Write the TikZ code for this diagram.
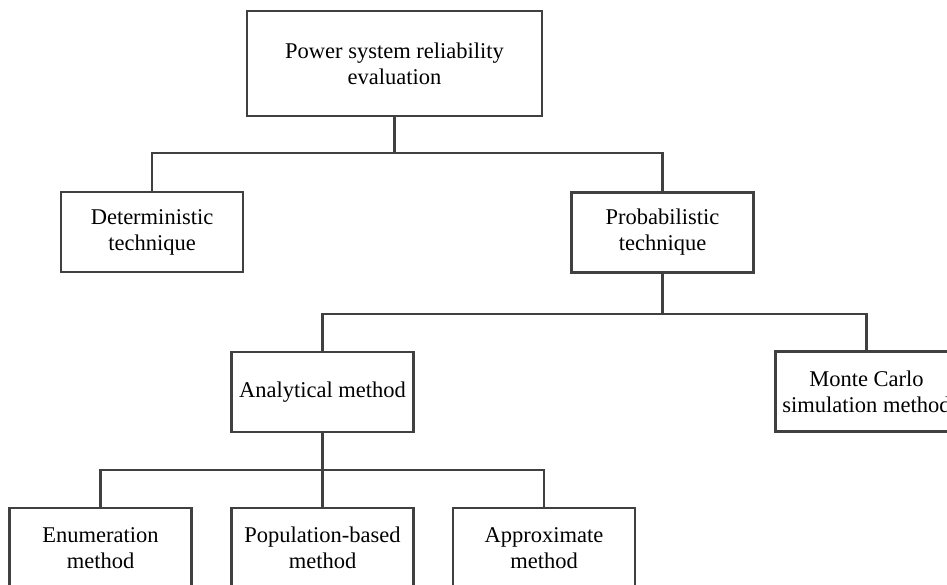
\documentclass[tikz,border=0pt]{standalone}
\usepackage{fontspec}
\setmainfont{Liberation Serif}
\definecolor{linegray}{HTML}{404040}
\begin{document}
\begin{tikzpicture}[x=1pt,y=-1pt,
  box/.style={draw=linegray, line width=2.8pt, fill=white, inner sep=0pt, align=center,
    minimum width=182pt, minimum height=80pt,
    font=\fontsize{22.5}{26}\selectfont},
  conn/.style={draw=linegray, line width=2.8pt}]
\useasboundingbox (0,0) rectangle (947,585);
\clip (0,0) rectangle (947,585);
\fill[white] (0,0) rectangle (947,585);
\node[box, minimum width=295pt, minimum height=105pt] (top) at (394.5,63.5) {Power system reliability\\evaluation};
\node[box] (det) at (152,232) {Deterministic\\technique};
\node[box] (prob) at (662.5,232.5) {Probabilistic\\technique};
\node[box] (anal) at (322.5,392) {Analytical method};
\node[box] (mc) at (866.5,391.5) {Monte Carlo\\simulation method};
\node[box] (enum) at (100.5,548) {Enumeration\\method};
\node[box] (pop) at (322.5,548) {Population-based\\method};
\node[box] (appr) at (544,548) {Approximate\\method};
\coordinate (j1) at (394.5,153);
\coordinate (j2) at (662.5,314);
\coordinate (j3) at (322.5,470);
\draw[conn] (top.south) -- (j1);
\draw[conn] (det.north) |- (j1) -| (prob.north);
\draw[conn] (prob.south) -- (j2);
\draw[conn] (anal.north) |- (j2) -| (mc.north);
\draw[conn] (anal.south) -- (pop.north);
\draw[conn] (enum.north) |- (j3) -| (appr.north);
\end{tikzpicture}
\end{document}
